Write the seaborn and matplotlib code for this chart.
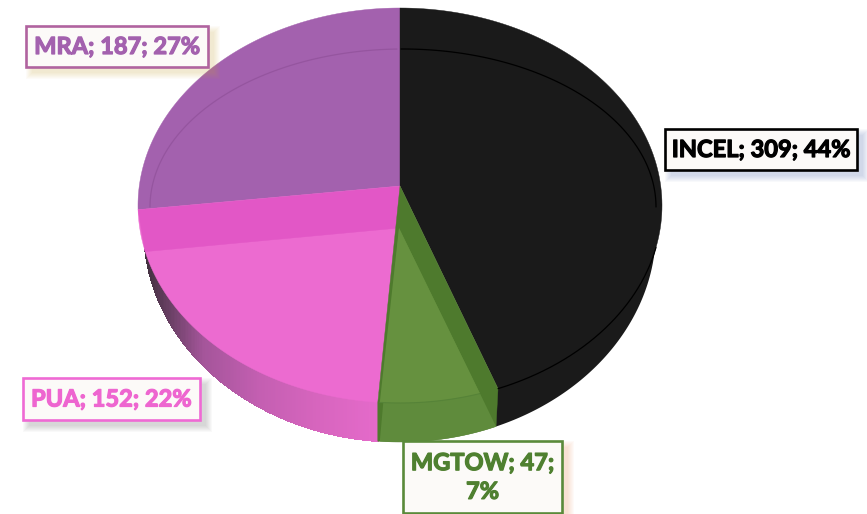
import numpy as np
import matplotlib
matplotlib.use("Agg")
import matplotlib.pyplot as plt
import matplotlib.patheffects as pe
from matplotlib.patches import Rectangle
import seaborn as sns

# Data
names = ["INCEL", "MGTOW", "PUA", "MRA"]
counts = [309, 47, 152, 187]
percents = [44, 7, 22, 27]

# colours
mra_col = "#A361AE"
incel_col = "#1A1A1A"
pua_col = "#EC6BD0"
pua_band = "#E257C6"
green_dark = "#4E7A2D"
green_light = "#66913F"
green_low = "#5F8B3C"

sns.set_theme(style="white")
plt.rcParams['font.family'] = ['Lato', 'DejaVu Sans']

# pie geometry in picture pixels
cx, cy = 400, 186
up, down = 178, 217
bend = (down - up) / (down + up)
A = up * (1 + bend)
R = 262
B = R * np.sqrt(1 - bend ** 2)
el_c, el_s = cy + (down - up) / 2, (down + up) / 2   # same rim as plain ellipse
low_c, low_s, low_r = 230, 212, 256                  # bottom edge of the wall
depth = 42


def rim(frac):
    # clockwise from the top, tilted circle with perspective
    t = 2 * np.pi * np.asarray(frac)
    u, v = np.sin(t), np.cos(t)
    d = 1 + bend * v
    return cx + B * u / d, cy - A * v / d


def arc(f0, f1, n=120):
    return rim(np.linspace(f0, f1, n))


def rim_low_y(x):
    return el_c + el_s * np.sqrt(np.clip(1 - ((x - cx) / R) ** 2, 0, 1))


def wall_y(x):
    return low_c + low_s * np.sqrt(np.clip(1 - ((x - cx) / low_r) ** 2, 0, 1))


def wall(ax, x0, x1, colors, n=150):
    # solid shape first so the strips leave no white seams
    pal = sns.blend_palette(colors, n)
    xs = np.linspace(x0, x1, n + 1)
    ax.fill(np.r_[xs, xs[::-1]], np.r_[rim_low_y(xs) - 1, wall_y(xs[::-1])], color=pal[n // 2], lw=0, zorder=1)
    if len(set(colors)) == 1:
        return
    for i in range(n):
        xx = [xs[i], xs[i + 1], xs[i + 1], xs[i]]
        yy = [rim_low_y(xs[i]) - 1, rim_low_y(xs[i + 1]) - 1, wall_y(xs[i + 1]), wall_y(xs[i])]
        ax.fill(xx, yy, facecolor=pal[i], edgecolor=pal[i], lw=0.5, antialiased=False, zorder=1)


fig = plt.figure(figsize=(8.67, 5.14), dpi=100)
ax = fig.add_axes([0, 0, 1, 1])
ax.set_xlim(0, 867)
ax.set_ylim(514, 0)
ax.axis("off")

edges = np.cumsum([0] + counts) / sum(counts)
x_i, y_i = rim(edges[1])     # INCEL / MGTOW
x_m, y_m = rim(edges[2])     # MGTOW / PUA
x_p, y_p = rim(edges[3])     # PUA / MRA

# side walls
left = x_p + 7
wall(ax, left, x_m, ["#40303E", "#A4559A", "#C45FB2", "#D765BE", "#E46ACA"])
wall(ax, x_i - 2, cx + low_r, [incel_col, incel_col])

# top faces
xa, ya = arc(edges[3], edges[4])
ax.fill(np.r_[cx, xa], np.r_[cy, ya], color=mra_col, lw=0.3, zorder=2)
xa, ya = arc(edges[0], edges[1])
ax.fill(np.r_[cx, xa], np.r_[cy, ya], color=incel_col, lw=0.3, zorder=2)

# PUA, with the inner wall band along the MRA edge
xa, ya = arc(edges[2], edges[3])
ax.fill(np.r_[cx - 1, xa], np.r_[cy + depth, ya], color=pua_col, lw=0.3, zorder=2)
ax.fill([cx, x_p, left, cx - 1], [cy, y_p, y_p + depth, cy + depth], color=pua_band, lw=0.3, zorder=3)

# MGTOW
xl = np.linspace(x_m, x_i - 2, 60)
ax.fill(np.r_[cx, x_i, x_i - 2, xl[::-1], x_m], np.r_[cy, y_i, wall_y(x_i - 2), wall_y(xl[::-1]), y_m],
        color=green_dark, lw=0.3, zorder=4)
x_in = x_i - 18
y_in = rim_low_y(x_in)
xl = np.linspace(x_m + 2, x_i - 2, 60)
ax.fill(np.r_[cx - 1, xl, x_in], np.r_[cy + depth, wall_y(xl), y_in], color=green_low, lw=0, zorder=5)
xt = np.linspace(x_m + 2, x_in, 40)
ax.fill(np.r_[cx - 1, xt], np.r_[cy + depth, rim_low_y(xt)], color=green_light, lw=0, zorder=6)
ax.plot(xt, rim_low_y(xt), color="#568338", lw=0.8, zorder=7)
ax.plot([x_in, x_i], [y_in, y_i], color=green_dark, lw=0.5, zorder=7)

# rim lines
xr = np.linspace(x_i, 656, 150)
ax.plot(xr, rim_low_y(xr), color="black", lw=0.9, zorder=7)
th = np.linspace(0, np.pi, 200)
xu = 403 + 253 * np.cos(th)
yu = 207 - 158 * np.sin(th)
mask = xu >= cx
ax.plot(xu[mask], yu[mask], color="black", lw=0.9, zorder=7)
ax.plot(xu[~mask], yu[~mask], color="#95559F", lw=0.9, zorder=7)

# data labels
boxes = [
    (665, 129, 192, 41, "black", "#3F5FA8"),
    (403, 441, 159, 72, "#5A8A3A", "#E8874A"),
    (23, 378, 177, 42, "#EF6AD4", "#555555"),
    (26, 26, 182, 41, "#B0639F", "#C9A93C"),
]
text_cols = ["black", "#4F8030", "#EE66D0", mra_col]

for i, name in enumerate(names):
    x, y, w, h, edge, glow = boxes[i]
    for g in range(7):
        ax.add_patch(Rectangle((x + 6 - g, y + 6 - g), w + 2 * g, h + 2 * g,
                               fc=glow, ec="none", alpha=0.035, zorder=8))
    ax.add_patch(Rectangle((x, y), w, h, fc="#FCFAF8", ec=edge, lw=1.9, zorder=9))
    if name == "MGTOW":
        label = f"{name}; {counts[i]};\n{percents[i]}%"
    else:
        label = f"{name}; {counts[i]}; {percents[i]}%"
    txt = ax.text(x + w / 2, y + h / 2, label, ha="center", va="center", color=text_cols[i],
                  fontsize=17, fontweight="bold", linespacing=1.3, zorder=10)
    txt.set_path_effects([pe.withStroke(linewidth=0.9, foreground=text_cols[i])])

plt.savefig("out.png", dpi=100)
